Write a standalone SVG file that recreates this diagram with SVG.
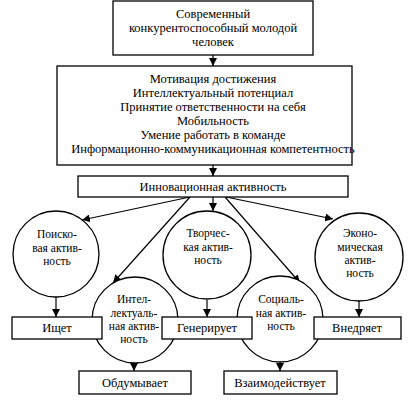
<svg xmlns="http://www.w3.org/2000/svg" width="408" height="406" viewBox="0 0 408 406" font-family="Liberation Serif, serif">
<defs>
<marker id="ah" viewBox="0 0 10 10" refX="10" refY="5" markerWidth="8" markerHeight="8" markerUnits="userSpaceOnUse" orient="auto">
<path d="M0,0 L10,5 L0,10 Z" fill="#000"/>
</marker>
<style>
rect, circle { fill: #fff; stroke: #000; stroke-width: 1.3; }
text { fill: #000; text-anchor: middle; }
.m { font-size: 12.5px; }
.c { font-size: 11.5px; }
.conn line { stroke: #000; stroke-width: 1.2; marker-end: url(#ah); }
</style>
</defs>
<rect x="0" y="0" width="408" height="406" style="fill:#fff;stroke:none"/>
<g class="conn" id="connectors">
<line x1="213" y1="55" x2="213" y2="66"/>
<line x1="213" y1="165" x2="213" y2="176"/>
<line x1="190" y1="197" x2="82" y2="220"/>
<line x1="190" y1="197" x2="113" y2="283"/>
<line x1="213" y1="197" x2="213" y2="211"/>
<line x1="225" y1="197" x2="300" y2="283"/>
<line x1="226" y1="197" x2="333" y2="219"/>
<line x1="56" y1="297" x2="56" y2="317"/>
<line x1="207" y1="300" x2="207" y2="317"/>
<line x1="359" y1="300" x2="359" y2="317"/>
<line x1="134" y1="363" x2="134" y2="371"/>
<line x1="280" y1="362" x2="280" y2="371"/>
</g>
<g id="n-top">
<rect x="113" y="1" width="200" height="54"/>
<text class="m" x="213" y="18">Современный</text>
<text class="m" x="213" y="32">конкурентоспособный молодой</text>
<text class="m" x="213" y="46">человек</text>
</g>
<g id="n-qual">
<rect x="57" y="66" width="295" height="99"/>
<text class="m" x="213" y="83">Мотивация достижения</text>
<text class="m" x="213" y="97">Интеллектуальный потенциал</text>
<text class="m" x="213" y="111">Принятие ответственности на себя</text>
<text class="m" x="213" y="125">Мобильность</text>
<text class="m" x="213" y="139">Умение работать в команде</text>
<text class="m" x="213" y="153">Информационно-коммуникационная компетентность</text>
</g>
<g id="n-innov">
<rect x="78" y="176" width="270" height="21"/>
<text class="m" x="213" y="191">Инновационная активность</text>
</g>
<g id="n-search">
<circle cx="56" cy="254" r="43"/>
<text class="c" x="57" y="238">Поиско-</text>
<text class="c" x="57" y="252">вая актив-</text>
<text class="c" x="57" y="265">ность</text>
</g>
<g id="n-creative">
<circle cx="207" cy="255" r="44"/>
<text class="c" x="208" y="237">Творчес-</text>
<text class="c" x="208" y="251">кая актив-</text>
<text class="c" x="208" y="264">ность</text>
</g>
<g id="n-econ">
<circle cx="359" cy="257" r="44"/>
<text class="c" x="360" y="237">Эконо-</text>
<text class="c" x="360" y="251">мическая</text>
<text class="c" x="360" y="264">актив-</text>
<text class="c" x="360" y="277">ность</text>
</g>
<g id="n-intel">
<circle cx="135" cy="320" r="43"/>
<text class="c" x="134" y="303">Интел-</text>
<text class="c" x="134" y="317">лектуаль-</text>
<text class="c" x="134" y="330">ная актив-</text>
<text class="c" x="134" y="343">ность</text>
</g>
<g id="n-social">
<circle cx="280" cy="319" r="43"/>
<text class="c" x="281" y="303">Социаль-</text>
<text class="c" x="281" y="317">ная актив-</text>
<text class="c" x="281" y="330">ность</text>
</g>
<g id="n-seeks">
<rect x="12" y="317" width="90" height="22"/>
<text class="m" x="57" y="332">Ищет</text>
</g>
<g id="n-generates">
<rect x="162" y="317" width="90" height="22"/>
<text class="m" x="207" y="332">Генерирует</text>
</g>
<g id="n-implements">
<rect x="314" y="317" width="87" height="22"/>
<text class="m" x="357" y="332">Внедряет</text>
</g>
<g id="n-thinks">
<rect x="79" y="371" width="112" height="23"/>
<text class="m" x="135" y="387">Обдумывает</text>
</g>
<g id="n-interacts">
<rect x="224" y="371" width="113" height="23"/>
<text class="m" x="280" y="387">Взаимодействует</text>
</g>
</svg>
